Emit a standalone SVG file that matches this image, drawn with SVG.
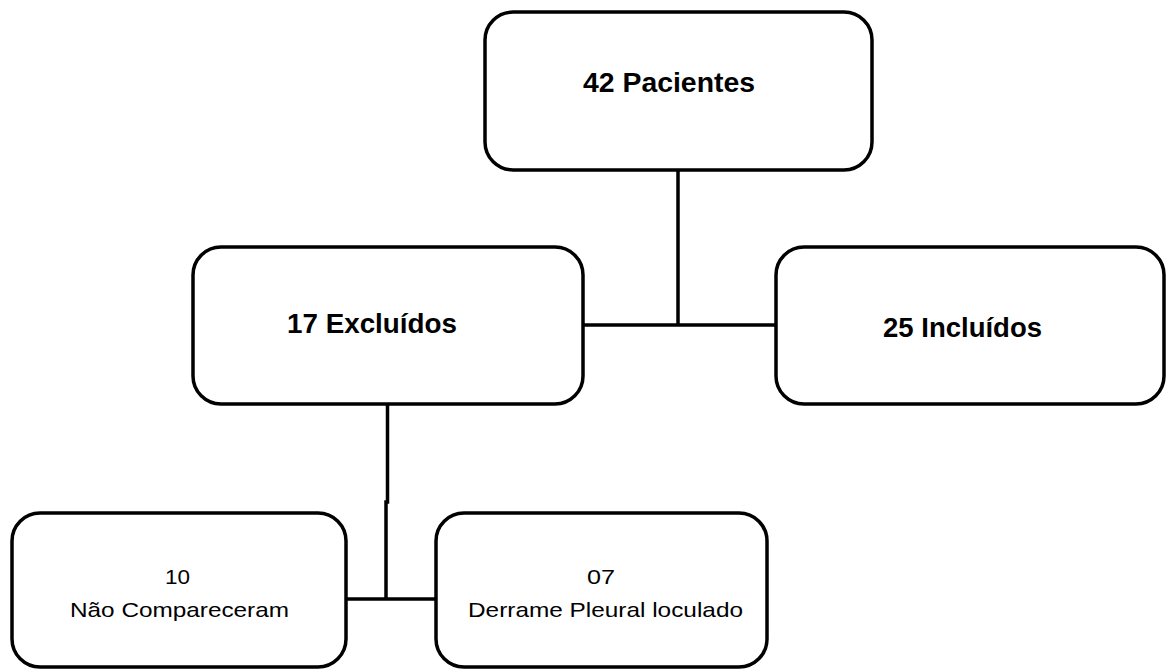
<svg xmlns="http://www.w3.org/2000/svg" width="1173" height="670" viewBox="0 0 1173 670">
<style>
.box{fill:#fff;stroke:#000;stroke-width:3.5}
.big{font-family:"Liberation Sans",Arial,sans-serif;font-weight:bold;font-size:27.5px;fill:#000}
.small{font-family:"Liberation Sans",Arial,sans-serif;font-size:21px;fill:#000}
.conn{fill:none;stroke:#000;stroke-width:3.5}
</style>
<rect width="1173" height="670" fill="#fff"/>
<g id="connectors">
<path class="conn" d="M678 170 V325 M583 325 H776"/>
<path class="conn" d="M387.5 404 V502 H386 V599 M346 599 H436"/>
</g>
<g id="n1">
<rect class="box" x="485" y="12" width="387" height="158" rx="28"/>
<text class="big" x="583" y="92" textLength="172" lengthAdjust="spacingAndGlyphs">42 Pacientes</text>
</g>
<g id="n2">
<rect class="box" x="193" y="247" width="390" height="157" rx="28"/>
<text class="big" x="287" y="333" textLength="170" lengthAdjust="spacingAndGlyphs">17 Excluídos</text>
</g>
<g id="n3">
<rect class="box" x="776" y="247" width="388" height="157" rx="28"/>
<text class="big" x="883" y="337" textLength="159" lengthAdjust="spacingAndGlyphs">25 Incluídos</text>
</g>
<g id="n4">
<rect class="box" x="12" y="513" width="334" height="154" rx="28"/>
<text class="small" x="165" y="584" textLength="25" lengthAdjust="spacingAndGlyphs">10</text>
<text class="small" x="70" y="617" textLength="219" lengthAdjust="spacingAndGlyphs">Não Compareceram</text>
</g>
<g id="n5">
<rect class="box" x="436" y="513" width="331" height="154" rx="28"/>
<text class="small" x="587" y="584" textLength="28" lengthAdjust="spacingAndGlyphs">07</text>
<text class="small" x="468" y="617" textLength="275" lengthAdjust="spacingAndGlyphs">Derrame Pleural loculado</text>
</g>
</svg>
